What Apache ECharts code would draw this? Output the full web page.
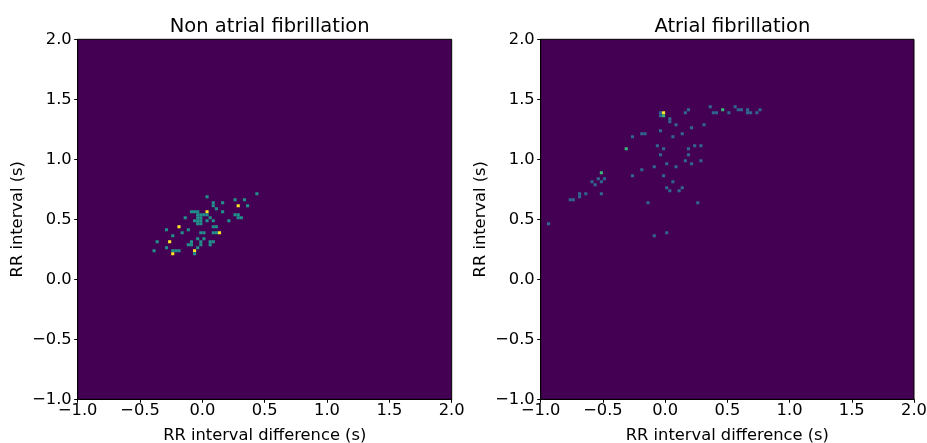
<!DOCTYPE html>
<html>
<head>
<meta charset="utf-8">
<title>RR interval histograms</title>
<script src="https://cdn.jsdelivr.net/npm/echarts@6/dist/echarts.min.js"></script>
<style>
  html, body { margin: 0; padding: 0; background: #fff; }
  #chart { width: 927px; height: 443px; }
</style>
</head>
<body>
<div id="chart"></div>
<script>
// Panel titles and axis captions
const panelTitles = ['Non atrial fibrillation', 'Atrial fibrillation'];
const xAxisTitle = 'RR interval difference (s)';
const yAxisTitle = 'RR interval (s)';

// Shared axis ticks (seconds)
const tickValues = [-1.0, -0.5, 0.0, 0.5, 1.0, 1.5, 2.0];

// 2D histogram, non atrial fibrillation: bin centres and counts
const nonAfX = [0.4375, 0.0375, 0.2625, 0.3375, 0.0875, 0.0875, 0.1625, 0.2875, 0.3625, 0.1125,
  0.1625, -0.0875, -0.0625, -0.0375, 0.0375, 0.2625, 0.2875, 0.2875, 0.3125, -0.1375,
  -0.0375, -0.0125, 0.0125, 0.0375, -0.0375, -0.0125, -0.0375, -0.0125, -0.0375, -0.0125,
  -0.0625, 0.0625, 0.0375, 0.0875, 0.2125, -0.1875, 0.0875, 0.1125, -0.2875, -0.1125,
  -0.1625, -0.0125, 0.0125, 0.0875, 0.1125, 0.1375, -0.2375, -0.0375, 0.0125, -0.3625,
  -0.2625, -0.0875, -0.1125, -0.0875, -0.0125, -0.0125, 0.0625, 0.0875, 0.0625, -0.2875,
  -0.0375, -0.3875, -0.2375, -0.2125, -0.1875, -0.0625, -0.2375, -0.0625];
const nonAfY = [0.7125, 0.6875, 0.6625, 0.6625, 0.6375, 0.6125, 0.6375, 0.6125, 0.6125, 0.5875,
  0.5625, 0.5625, 0.5625, 0.5625, 0.5625, 0.5375, 0.5375, 0.5125, 0.5125, 0.5125,
  0.5375, 0.5375, 0.5375, 0.5375, 0.5125, 0.5125, 0.4875, 0.4875, 0.4625, 0.4625,
  0.4875, 0.5125, 0.4875, 0.4875, 0.4875, 0.4375, 0.4375, 0.4375, 0.4125, 0.4125,
  0.3875, 0.3875, 0.3875, 0.3875, 0.3875, 0.3875, 0.3625, 0.3375, 0.3375, 0.3125,
  0.3125, 0.3125, 0.2875, 0.2875, 0.3125, 0.2875, 0.3125, 0.3125, 0.2875, 0.2625,
  0.2625, 0.2375, 0.2375, 0.2375, 0.2375, 0.2375, 0.2125, 0.2125];
const nonAfCount = [1, 1, 1, 1, 1, 1, 1, 2, 1, 1,
  1, 1, 1, 1, 2, 1, 1, 1, 1, 1,
  1, 1, 1, 1, 1, 1, 1, 1, 1, 1,
  1, 1, 1, 1, 1, 2, 1, 1, 1, 1,
  1, 1, 1, 1, 1, 2, 1, 1, 1, 1,
  2, 1, 1, 1, 1, 1, 1, 1, 1, 1,
  1, 1, 1, 1, 1, 2, 2, 1];

// 2D histogram, atrial fibrillation: bin centres and counts
const afX = [-0.0375, -0.0375, -0.0125, -0.0125, 0.0375, 0.0375, -0.0375, -0.2625, -0.1875, -0.1625,
  -0.3125, -0.0625, -0.0125, -0.0375, 0.0125, -0.0875, -0.1875, -0.5125, -0.2625, -0.0125,
  -0.5375, -0.4875, -0.5875, -0.5625, -0.5125, 0.0125, 0.0375, -0.6875, -0.6875, -0.6375,
  -0.5125, -0.7625, -0.7375, -0.1375, -0.9375, 0.0125, 0.0875, 0.1875, 0.1625, 0.2125,
  0.1375, 0.0625, 0.3125, 0.3625, 0.3875, 0.4125, 0.4625, 0.5125, 0.5625, 0.5875,
  0.6125, 0.6625, 0.6625, 0.6875, 0.7375, 0.7625, 0.1875, 0.2375, 0.2875, 0.1875,
  0.1625, 0.2125, 0.2875, 0.0875, 0.0625, 0.1375, 0.1125, 0.2625, -0.0875];
const afY = [1.3875, 1.3625, 1.3875, 1.3625, 1.3375, 1.3125, 1.2375, 1.1875, 1.2125, 1.2125,
  1.0875, 1.1125, 1.0875, 1.0375, 0.9625, 0.9375, 0.9125, 0.8875, 0.8625, 0.8625,
  0.8375, 0.8375, 0.8125, 0.7875, 0.8125, 0.7625, 0.7375, 0.7125, 0.6875, 0.7125,
  0.7125, 0.6625, 0.6625, 0.6375, 0.4625, 0.3875, 1.2875, 1.4125, 1.3875, 1.2625,
  1.2125, 1.1875, 1.2875, 1.4375, 1.3875, 1.3875, 1.4125, 1.3875, 1.4375, 1.4125,
  1.4125, 1.4125, 1.3875, 1.3875, 1.3875, 1.4125, 1.0875, 1.1125, 1.1125, 1.0375,
  0.9875, 0.9625, 0.9875, 0.9375, 0.8125, 0.7625, 0.7375, 0.6375, 0.3625];
const afCount = [1, 1, 3, 2, 1, 1, 1, 1, 1, 1,
  2, 1, 1, 1, 1, 1, 1, 2, 1, 1,
  1, 1, 1, 1, 1, 1, 1, 1, 1, 1,
  1, 1, 1, 1, 1, 1, 1, 1, 1, 1,
  1, 1, 1, 1, 1, 1, 2, 1, 1, 1,
  1, 1, 1, 1, 1, 1, 1, 1, 1, 1,
  1, 1, 1, 1, 1, 1, 1, 1, 1];

// Histogram bin width in seconds (both axes)
const BIN = 0.025;

// Viridis colour ramp
const viridis = ['#440154', '#482475', '#414487', '#355f8d', '#2a788e', '#21918c',
  '#22a884', '#44bf70', '#7ad151', '#bddf26', '#fde725'];

const FONT = 'DejaVu Sans';
const TICK_SIZE = 16.3;
const TITLE_SIZE = 19.5;

function toCells(xs, ys, cs) {
  return xs.map((x, k) => [x, ys[k], cs[k]]);
}

function fmtTick(v) {
  return v.toFixed(1).replace('-', '\u2212');
}

// One rectangle per occupied histogram bin, sized through the axis scales
function renderCell(params, api) {
  const x = api.value(0);
  const y = api.value(1);
  const a = api.coord([x - BIN / 2, y + BIN / 2]);
  const b = api.coord([x + BIN / 2, y - BIN / 2]);
  return {
    type: 'rect',
    shape: { x: a[0], y: a[1], width: b[0] - a[0], height: b[1] - a[1] },
    style: { fill: api.visual('color') }
  };
}

const grids = [
  { left: 77.7, top: 39.3, width: 374, height: 360 },
  { left: 540.7, top: 39.3, width: 373.3, height: 360 }
];

function makeXAxis(gi) {
  return {
    gridIndex: gi, type: 'value', min: tickValues[0], max: tickValues[tickValues.length - 1],
    interval: tickValues[1] - tickValues[0],
    name: xAxisTitle, nameLocation: 'middle', nameGap: 28,
    nameTextStyle: { fontFamily: FONT, fontSize: TICK_SIZE, color: '#000' },
    axisLine: { show: true, onZero: false, lineStyle: { color: '#000', width: 1 } },
    axisTick: { show: true, inside: false, length: 3.5, lineStyle: { color: '#000', width: 1 } },
    axisLabel: { fontFamily: FONT, fontSize: TICK_SIZE, color: '#000', margin: 3, formatter: fmtTick,
      showMinLabel: true, showMaxLabel: true, hideOverlap: false },
    splitLine: { show: false }
  };
}

function makeYAxis(gi) {
  return {
    gridIndex: gi, type: 'value', min: tickValues[0], max: tickValues[tickValues.length - 1],
    interval: tickValues[1] - tickValues[0],
    name: yAxisTitle, nameLocation: 'middle', nameGap: 52, nameRotate: 90,
    nameTextStyle: { fontFamily: FONT, fontSize: TICK_SIZE, color: '#000' },
    axisLine: { show: true, onZero: false, lineStyle: { color: '#000', width: 1 } },
    axisTick: { show: true, inside: false, length: 3.5, lineStyle: { color: '#000', width: 1 } },
    axisLabel: { fontFamily: FONT, fontSize: TICK_SIZE, color: '#000', margin: 6, formatter: fmtTick,
      showMinLabel: true, showMaxLabel: true, hideOverlap: false },
    splitLine: { show: false }
  };
}

const chart = echarts.init(document.getElementById('chart'), null, { renderer: 'canvas' });

chart.setOption({
  animation: false,
  backgroundColor: '#ffffff',
  title: panelTitles.map((t, k) => ({
    text: t,
    left: grids[k].left + grids[k].width / 2,
    textAlign: 'center',
    top: 12,
    textStyle: { fontFamily: FONT, fontSize: TITLE_SIZE, fontWeight: 'normal', color: '#000' }
  })),
  grid: grids.map(g => Object.assign({
    show: true, backgroundColor: viridis[0], borderColor: '#000', borderWidth: 1,
    containLabel: false, outerBoundsMode: 'none'
  }, g)),
  xAxis: [makeXAxis(0), makeXAxis(1)],
  yAxis: [makeYAxis(0), makeYAxis(1)],
  visualMap: [
    { type: 'continuous', show: false, seriesIndex: 0, dimension: 2, min: 0,
      max: Math.max(...nonAfCount), inRange: { color: viridis } },
    { type: 'continuous', show: false, seriesIndex: 1, dimension: 2, min: 0,
      max: Math.max(...afCount), inRange: { color: viridis } }
  ],
  series: [
    { type: 'custom', name: panelTitles[0], xAxisIndex: 0, yAxisIndex: 0,
      renderItem: renderCell, encode: { x: 0, y: 1 }, clip: true,
      data: toCells(nonAfX, nonAfY, nonAfCount) },
    { type: 'custom', name: panelTitles[1], xAxisIndex: 1, yAxisIndex: 1,
      renderItem: renderCell, encode: { x: 0, y: 1 }, clip: true,
      data: toCells(afX, afY, afCount) }
  ]
});
</script>
</body>
</html>
